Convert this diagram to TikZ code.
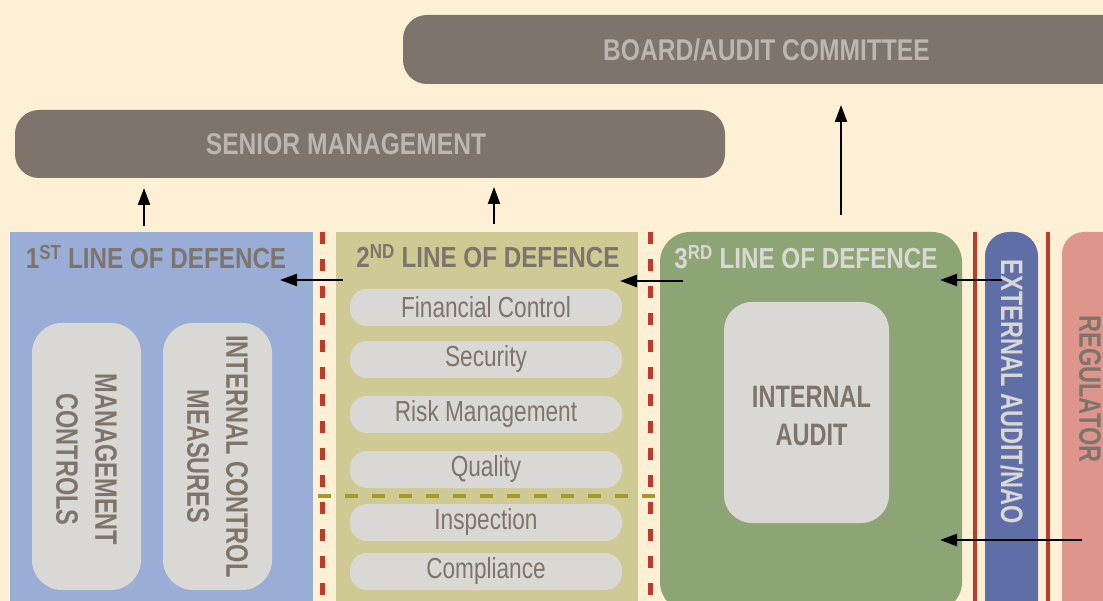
\documentclass[tikz,border=0pt]{standalone}
\usepackage{fontspec}
\setmainfont{Liberation Sans}[FakeStretch=0.78]
\newfontfamily\condmed{Liberation Sans Bold}[FakeStretch=0.76]
\newfontfamily\topfont{Liberation Sans Bold}[FakeStretch=0.82]
\newfontfamily\titlefont{Liberation Sans Bold}[FakeStretch=0.835]
\usetikzlibrary{arrows.meta,calc}
\definecolor{bgc}{HTML}{FDF0D5}
\definecolor{darkgray}{HTML}{7D746B}
\definecolor{toptext}{HTML}{BBB6AF}
\definecolor{lineone}{HTML}{9AADD6}
\definecolor{linetwo}{HTML}{CFC994}
\definecolor{linethree}{HTML}{8DA474}
\definecolor{extblue}{HTML}{5F6EA6}
\definecolor{regpink}{HTML}{DE968C}
\definecolor{lightbox}{HTML}{DAD8D4}
\definecolor{redline}{HTML}{BE3A2A}
\definecolor{oliveline}{HTML}{A49A2C}
\tikzset{
  box/.style={inner sep=0pt, outer sep=0pt, anchor=north west},
  darkbox/.style={box, fill=darkgray, rounded corners=24pt, text=toptext, font=\topfont\fontsize{30}{34}\selectfont},
  title/.style={inner sep=0pt, font=\titlefont\fontsize{29}{32}\selectfont},
  item/.style={box, fill=lightbox, rounded corners=17pt, minimum width=272pt, minimum height=37pt, text=darkgray, font=\fontsize{29}{32}\selectfont},
  tallbox/.style={box, fill=lightbox, rounded corners=30pt, minimum width=109pt, minimum height=267pt},
  vtext/.style={inner sep=0pt, rotate=-90, align=center, text=darkgray, font=\condmed\fontsize{31}{39}\selectfont},
  arr/.style={line width=2.2pt, -{Triangle[length=17pt,width=12pt]}},
  reddash/.style={redline, line width=5pt, dash pattern=on 12pt off 15pt},
  redsolid/.style={redline, line width=4pt},
  olivedash/.style={oliveline, line width=4pt, dash pattern=on 13pt off 14pt}
}
\begin{document}
\begin{tikzpicture}[x=1pt,y=-1pt]
\fill[bgc] (0,0) rectangle (1103,601);
\useasboundingbox (0,0) rectangle (1103,601);
\clip (0,0) rectangle (1103,601);

% top boxes
\node[darkbox, minimum width=727pt, minimum height=69pt] (board) at (403,15) {BOARD/AUDIT COMMITTEE};
\node[darkbox, minimum width=710pt, minimum height=68pt] (senior) at (15,110) {};
\node[inner sep=0pt, text=toptext, font=\topfont\fontsize{30}{34}\selectfont] (seniortxt) at ($(senior.center)+(-24,0)$) {SENIOR MANAGEMENT};

% columns
\node[box, fill=lineone, minimum width=303pt, minimum height=380pt] (l1) at (10,232) {};
\node[box, fill=linetwo, minimum width=302pt, minimum height=380pt] (l2) at (336,232) {};
\node[box, fill=linethree, rounded corners=30pt, minimum width=302pt, minimum height=380pt] (l3) at (660,232) {};
\node[box, fill=extblue, rounded corners=24pt, minimum width=53pt, minimum height=400pt] (ext) at (985,232) {};
\node[box, fill=regpink, rounded corners=22pt, minimum width=80pt, minimum height=400pt] (reg) at (1062,232) {};

% separators
\draw[reddash] (322,232) -- (322,601);
\draw[reddash] (650,232) -- (650,601);
\draw[redsolid] (975,232) -- (975,601);
\draw[redsolid] (1048,232) -- (1048,601);

% titles
\node[title, text=darkgray] (t1) at (156,257) {1\textsuperscript{ST} LINE OF DEFENCE};
\node[title, text=darkgray] (t2) at (488,256) {2\textsuperscript{ND} LINE OF DEFENCE};
\node[title, text=lightbox] (t3) at (806,257) {3\textsuperscript{RD} LINE OF DEFENCE};

% first line inner boxes
\node[tallbox] (mc) at (32,323) {};
\node[vtext] (mctxt) at ($(mc.center)+(0,3)$) {MANAGEMENT\\CONTROLS};
\node[tallbox] (icm) at (163,323) {};
\node[vtext] (icmtxt) at (icm.center) {INTERNAL CONTROL\\MEASURES};

% second line items
\node[item] (fc) at (350,289) {Financial Control};
\node[item] (sec) at (350,341) {Security};
\node[item] (rm) at (350,396) {Risk Management};
\node[item] (qu) at (350,451) {Quality};
\node[item] (insp) at (350,504) {Inspection};
\node[item] (comp) at (350,553) {Compliance};
\draw[olivedash] (318,496) -- (655,496);

% third line
\node[box, fill=lightbox, rounded corners=28pt, minimum width=165pt, minimum height=221pt] (ia) at (724,302) {};
\node[inner sep=0pt, align=center, text=darkgray, font=\condmed\fontsize{31}{38}\selectfont] (iatxt) at ($(ia.center)+(5,3)$) {INTERNAL\\AUDIT};

% right side texts
\node[vtext, text=lightbox] (exttxt) at (1012,392) {EXTERNAL AUDIT/NAO};
\node[vtext] (regtxt) at (1090,389) {REGULATOR};

% arrows
\draw[arr] ($(l1.north west)+(134,-6)$) -- ($(senior.south west)+(129,10)$);
\draw[arr] ($(l2.north west)+(158,-8)$) -- ($(senior.south west)+(479,9)$);
\draw[arr] ($(l3.north west)+(181,-17)$) -- ($(board.south west)+(438,21)$);
\draw[arr] ($(l2.north west)+(7,48)$) -- ($(l1.north east)+(-33,48)$);
\draw[arr] ($(l3.north west)+(23,49)$) -- ($(l2.north east)+(-18,49)$);
\draw[arr] ($(ext.north west)+(17,48)$) -- ($(l3.north east)+(-22,48)$);
\draw[arr] ($(reg.north west)+(20,308)$) -- ($(l3.north east)+(-22,308)$);
\end{tikzpicture}
\end{document}
